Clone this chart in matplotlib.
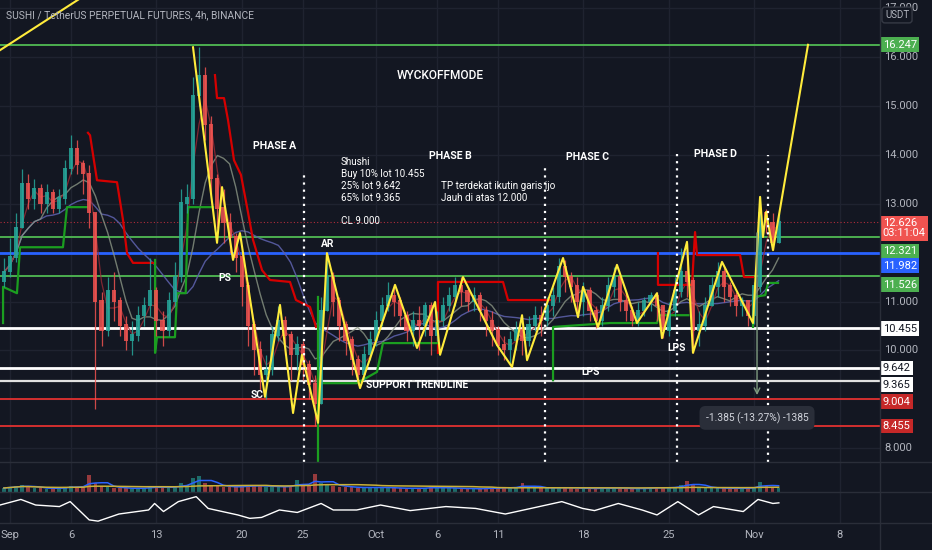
import numpy as np
import pandas as pd
import matplotlib
matplotlib.use("Agg")
import matplotlib.pyplot as plt
from matplotlib.lines import Line2D

plt.rcParams['font.family'] = ['Roboto', 'DejaVu Sans']

BG = '#131722'
GRID = '#1f2330'
TXT = '#b2b5be'
UP, DN = '#26a69a', '#ef5350'

# 12h candles, day offset from Sep 1 (t0 = -0.5, step 0.5)
closes = [11.6, 11.9, 12.5, 13.4, 13.1, 13.3, 13.0, 13.2, 12.9, 13.1, 13.7, 14.1, 13.8, 13.6, 12.8, 11.0,
          10.4, 11.2, 11.0, 10.5, 10.2, 10.3, 10.7, 10.9, 11.2, 10.6, 10.4, 11.0, 11.5, 13.0, 13.1, 15.2,
          15.6, 14.6, 13.5, 12.9, 12.6, 12.3, 11.9, 11.3, 10.5, 10.0, 9.5, 9.6, 10.3, 10.6, 10.3, 9.9,
          10.1, 9.7, 9.3, 8.9, 10.8, 11.5, 11.0, 10.5, 10.2, 9.8, 9.5, 9.9, 10.2, 10.6, 10.9, 11.1,
          11.0, 10.7, 10.4, 10.6, 10.5, 10.9, 10.3, 10.6, 10.9, 11.1, 11.3, 11.2, 11.0, 11.1, 10.8, 10.6,
          10.4, 10.1, 10.0, 10.2, 10.4, 10.2, 10.5, 10.7, 10.6, 10.9, 11.1, 11.7, 11.5, 11.3, 11.0, 11.2,
          10.8, 10.6, 10.9, 11.3, 11.5, 11.0, 10.8, 10.6, 10.8, 11.0, 11.1, 10.9, 10.4, 10.8, 11.2, 11.6,
          11.4, 10.4, 10.5, 10.9, 11.3, 11.6, 11.3, 11.1, 10.9, 11.0, 10.7, 11.3, 12.8, 12.6, 12.2, 12.626]
highs = [11.9, 12.3, 12.8, 13.7, 13.6, 13.5, 13.4, 13.4, 13.3, 13.3, 13.9, 14.4, 14.3, 13.9, 13.8, 12.8,
         11.2, 11.5, 11.6, 11.1, 10.7, 10.6, 10.9, 11.1, 11.9, 11.3, 10.8, 11.2, 11.8, 13.3, 13.4, 15.6,
         16.2, 15.8, 14.8, 13.6, 13.3, 12.8, 12.4, 12.0, 11.4, 10.6, 10.2, 9.9, 10.5, 10.9, 10.7, 10.4,
         10.3, 10.2, 9.8, 9.5, 11.1, 12.0, 11.6, 11.1, 10.6, 10.3, 9.9, 10.1, 10.4, 10.8, 11.1, 11.4,
         11.35, 11.1, 10.8, 10.8, 10.9, 11.0, 11.0, 10.8, 11.1, 11.3, 11.5, 11.5, 11.3, 11.3, 11.2, 10.9,
         10.8, 10.5, 10.3, 10.4, 10.6, 10.5, 10.7, 10.9, 10.9, 11.1, 11.3, 11.9, 11.85, 11.6, 11.5, 11.4,
         11.3, 10.9, 11.1, 11.5, 11.7, 11.5, 11.2, 10.9, 11.0, 11.1, 11.2, 11.2, 10.9, 11.0, 11.5, 12.1,
         12.2, 11.5, 10.8, 11.1, 11.5, 11.8, 11.7, 11.4, 11.2, 11.1, 11.0, 11.4, 13.15, 12.9, 12.8, 12.8]
lows = [11.3, 11.5, 11.8, 12.6, 12.9, 12.9, 12.8, 12.8, 12.8, 12.8, 13.0, 13.6, 13.6, 13.2, 12.5, 8.8,
        10.1, 10.3, 10.6, 10.3, 10.0, 9.9, 10.2, 10.5, 10.7, 10.3, 10.1, 10.3, 10.9, 11.4, 12.8, 13.0,
        15.0, 14.3, 13.2, 12.5, 12.2, 12.0, 11.6, 10.9, 10.1, 9.5, 9.2, 9.0, 9.5, 10.2, 9.9, 9.4,
        9.6, 9.4, 9.0, 8.455, 8.9, 10.8, 10.7, 10.2, 9.9, 9.5, 9.3, 9.4, 9.8, 10.1, 10.5, 10.8,
        10.7, 10.5, 10.2, 10.1, 10.0, 10.3, 9.9, 10.2, 10.5, 10.8, 10.9, 10.9, 10.8, 10.8, 10.6, 10.3,
        10.1, 9.9, 9.8, 9.75, 10.0, 9.9, 10.1, 10.4, 10.3, 10.5, 10.7, 11.0, 11.2, 11.0, 10.8, 10.7,
        10.6, 10.45, 10.5, 10.8, 11.1, 10.8, 10.6, 10.5, 10.5, 10.7, 10.8, 10.6, 10.25, 10.3, 10.7, 11.1,
        11.1, 9.95, 10.1, 10.4, 10.9, 11.1, 11.0, 10.9, 10.7, 10.7, 10.5, 10.55, 11.2, 12.4, 12.05, 12.2]
volumes = [4, 5, 6, 7, 5, 4, 4, 3, 4, 4, 5, 6, 5, 5, 17, 9,
           6, 5, 4, 4, 4, 3, 4, 4, 6, 5, 4, 4, 6, 9, 7, 14,
           16, 9, 7, 6, 5, 5, 5, 6, 7, 6, 6, 5, 6, 5, 5, 6,
           12, 7, 6, 18, 9, 8, 6, 5, 5, 5, 4, 4, 5, 5, 4, 4,
           4, 4, 3, 4, 4, 4, 5, 4, 4, 4, 4, 3, 3, 4, 3, 4,
           4, 4, 5, 4, 5, 9, 5, 4, 4, 4, 4, 5, 4, 4, 3, 4,
           4, 3, 4, 4, 4, 4, 3, 3, 4, 4, 4, 4, 5, 4, 5, 7,
           11, 7, 5, 4, 4, 4, 4, 3, 4, 4, 4, 5, 10, 6, 5, 4]

# oscillator (day offset, value 0-100)
osc_t = [-0.82, 0.89, 2.1, 4.05, 4.93, 6.49, 7.22, 8.93, 11.36, 11.85, 12.58, 13.8, 15.26, 16.24, 18.67,
         19.65, 20.62, 22.08, 23.55, 25.5, 26.5, 28.42, 30.37, 32.8, 35.73, 38.17, 40.6, 43.04, 45.23,
         46.94, 47.91, 49.86, 51.81, 53.03, 54.74, 56.44, 57.66, 60.1, 61.31, 62.53, 63.02]
osc_v = [58, 76, 58, 53, 69, 10, 6, 29, 42, 63, 37, 69, 85, 47, 26,
         15, 18, 42, 34, 63, 42, 42, 58, 40, 53, 47, 29, 50, 69,
         47, 40, 63, 42, 26, 69, 26, 53, 37, 76, 63, 65]

# zigzag swing points (day offset, price)
zig_t = [15.00, 16.97, 17.38, 18.28, 18.85, 20.90, 22.13, 23.20, 23.93, 25.25, 25.98, 28.69, 31.56, 33.36,
         34.84, 35.25, 37.13, 39.92, 41.15, 41.97, 42.38, 43.44, 45.33, 46.56, 46.97, 48.20, 49.75, 51.39,
         53.03, 53.44, 55.49, 55.98, 58.36, 60.90, 61.48, 61.72, 61.97, 62.54, 65.41]
zig_p = [16.20, 12.20, 13.34, 11.85, 12.40, 9.05, 10.93, 8.72, 9.91, 8.52, 11.99, 9.23, 11.34, 10.05,
         10.99, 9.91, 11.50, 10.11, 9.66, 10.72, 9.80, 10.56, 11.89, 10.68, 11.30, 10.48, 11.75, 10.56,
         11.17, 10.25, 12.22, 9.95, 11.81, 10.56, 13.14, 12.32, 12.83, 12.05, 16.25]
trend_t = [-0.82, 5.57]
trend_p = [16.14, 17.17]

# stepped stop lines (day offset, price)
red_lines = [
    ([6.39, 6.56, 7.13, 8.77, 9.26, 9.59, 10.08, 11.89],
     [14.45, 14.40, 13.48, 13.44, 12.67, 11.99, 11.79, 11.79]),
    ([16.80, 16.97, 17.54, 17.87, 18.36, 18.93, 19.43, 19.92, 20.66, 21.31, 22.95, 23.44, 24.59, 25.08],
     [15.63, 15.16, 15.16, 14.71, 13.89, 13.59, 12.93, 12.26, 11.64, 11.44, 11.40, 11.03, 10.89, 10.48]),
    ([35.08, 35.08, 40.41, 40.82, 44.26], [9.95, 11.40, 11.40, 11.03, 11.03]),
    ([53.11, 53.11, 54.67, 55.90, 56.15, 56.31, 59.84, 60.16, 60.90],
     [11.99, 11.34, 11.34, 11.34, 12.42, 11.95, 11.95, 11.50, 11.50]),
]
green_lines = [
    ([-0.57, -0.57, 0.57, 0.82, 4.34, 4.67, 6.31], [10.56, 11.30, 11.17, 12.11, 12.11, 12.93, 12.93]),
    ([11.89, 11.89, 12.05, 13.52, 13.69, 14.40, 14.59, 16.64], [11.85, 9.95, 10.27, 10.27, 11.17, 11.17, 12.93, 12.93]),
    ([25.25, 25.25], [7.60, 11.09]),
    ([25.66, 28.44, 30.08, 30.57, 35.0], [9.33, 9.33, 9.56, 10.15, 10.15]),
    ([44.51, 44.51, 49.18, 53.03, 53.2, 55.6], [9.39, 10.48, 10.56, 10.56, 10.72, 10.72]),
    ([60.9, 60.9, 61.9, 62.13, 62.95], [10.48, 11.09, 11.13, 11.38, 11.38]),
]

# horizontal levels: price, colour, width, label position, label bg, label fg
levels = [
    (16.247, '#4caf50', 1.4, 16.247, '#4caf50', 'white'),
    (12.321, '#4caf50', 1.4, 12.03, '#4caf50', 'white'),
    (11.982, '#2962ff', 2.0, 11.73, '#2962ff', 'white'),
    (11.526, '#4caf50', 1.4, 11.34, '#4caf50', 'white'),
    (10.455, '#ffffff', 2.0, 10.44, '#ffffff', '#131722'),
    (9.642, '#ffffff', 2.0, 9.64, '#ffffff', '#131722'),
    (9.365, '#e0e0e0', 1.6, 9.30, '#ffffff', '#131722'),
    (9.004, '#d32f2f', 1.4, 8.95, '#c62828', 'white'),
    (8.455, '#d32f2f', 1.4, 8.455, '#c62828', 'white'),
]
last_price = 12.626
price_ticks = [8, 10, 11, 13, 14, 15, 16, 17]
x_ticks = [0, 5, 12, 19, 24, 30, 35, 40, 47, 54, 61, 68]
x_labels = ['Sep', '6', '13', '20', '25', 'Oct', '6', '11', '18', '25', 'Nov', '8']
phase_x = [24.1, 43.85, 54.67, 62.13]
phase_top = [13.65, 13.79, 14.02, 14.0]

n = min(len(closes), len(highs), len(lows), len(volumes))
c = np.array(closes[:n])
o = np.concatenate([[11.4], c[:-1]])
h = np.maximum(np.array(highs[:n]), np.maximum(o, c))
l = np.minimum(np.array(lows[:n]), np.minimum(o, c))
v = np.array(volumes[:n], dtype=float)
t = -0.5 + 0.5 * np.arange(n)
up = c >= o
cols = np.where(up, UP, DN)

W, H = 932, 550
fig = plt.figure(figsize=(W / 100, H / 100), dpi=100, facecolor=BG)
pw = 880 / W
ax = fig.add_axes([0, 88 / H, pw, 462 / H], facecolor=BG)
axv = fig.add_axes([0, 58 / H, pw, 30 / H], facecolor=BG)
axo = fig.add_axes([0, 27 / H, pw, 31 / H], facecolor=BG)

XL = (-0.82, 71.31)
for a in (ax, axv, axo):
    a.set_xlim(*XL)
    for s in a.spines.values():
        s.set_visible(False)
    a.set_xticks(x_ticks)
    a.tick_params(length=0, labelbottom=False, labelleft=False)
    a.grid(axis='x', color=GRID, lw=1)
    a.set_yticks([])
    a.set_axisbelow(True)

ax.set_ylim(7.718, 17.166)
ax.set_yticks(price_ticks + [9, 12])
ax.grid(axis='y', color=GRID, lw=1)

# levels
for p, col, lw, *_ in levels:
    ax.axhline(p, color=col, lw=lw, zorder=2)
ax.axhline(last_price, color='#f23645', lw=0.8, ls=(0, (1, 2)), alpha=0.7, zorder=2)

# moving averages
cs = pd.Series(c)
ax.plot(t, cs.rolling(17, min_periods=1).mean(), color='#5b5fa8', lw=1, alpha=0.9, zorder=3)
ax.plot(t, cs.rolling(7, min_periods=1).mean(), color='#8a9584', lw=1, alpha=0.8, zorder=3)
ax.plot(t, cs.rolling(3, min_periods=1).mean(), color='#9c2b35', lw=0.9, alpha=0.8, zorder=3)

for xs, ys in red_lines:
    ax.plot(xs, ys, color='#d50000', lw=1.6, zorder=3)
for xs, ys in green_lines:
    ax.plot(xs, ys, color='#1b9e20', lw=1.6, zorder=3)

# candles
ax.vlines(t, l, h, colors=cols, lw=0.9, alpha=0.85, zorder=4)
ax.bar(t, np.abs(c - o) + 0.03, width=0.34, bottom=np.minimum(o, c), color=cols, alpha=0.85,
       linewidth=0, zorder=4)

# zigzag
ax.plot(zig_t, zig_p, color='#ffeb3b', lw=1.5, zorder=5)
ax.plot(trend_t, trend_p, color='#ffeb3b', lw=1.5, zorder=5)

# phase separators
for xp, top in zip(phase_x, phase_top):
    ax.vlines(xp, 7.718, top, colors='white', lw=1.6, ls=(0, (1, 2.2)), zorder=6)

W_T = dict(color='white', zorder=7)
ax.text(35.25, 15.63, 'WYCKOFFMODE', fontsize=8.6, fontweight='medium', ha='center', va='center', **W_T)
for lab, xx, yy in [('PHASE A', 21.7, 14.18), ('PHASE B', 36.07, 13.98),
                    ('PHASE C', 47.38, 13.96), ('PHASE D', 57.79, 14.02)]:
    ax.text(xx, yy, lab, fontsize=7.6, fontweight='bold', ha='center', va='center', **W_T)
for line, yy in [('Shushi', 13.85), ('Buy 10% lot 10.455', 13.61), ('25% lot 9.642', 13.36),
                 ('65% lot 9.365', 13.12), ('CL 9.000', 12.65)]:
    ax.text(27.13, yy, line, fontsize=7.1, ha='left', va='center', **W_T)
ax.text(35.33, 13.36, 'TP terdekat ikutin garis ijo', fontsize=7.1, ha='left', va='center', **W_T)
ax.text(35.33, 13.12, 'Jauh di atas 12.000', fontsize=7.1, ha='left', va='center', **W_T)
for lab, xx, yy, ha in [('AR', 26.07, 12.18, 'center'), ('PS', 17.62, 11.48, 'center'),
                        ('SC', 20.25, 9.09, 'center'), ('SUPPORT TRENDLINE', 29.18, 9.29, 'left'),
                        ('LPS', 47.62, 9.56, 'center'), ('LPS', 54.67, 10.05, 'center')]:
    ax.text(xx, yy, lab, fontsize=7.4, fontweight='bold', ha=ha, va='center', **W_T)

# measurement tool
ax.annotate('', xy=(61.23, 9.03), xytext=(61.23, 12.46),
            arrowprops=dict(arrowstyle='->', color='#7f9c80', lw=1.0), zorder=6)
ax.text(61.23, 8.62, '-1.385 (-13.27%) -1385', fontsize=7.4, color='#d1d4dc', ha='center', va='center',
        zorder=8, bbox=dict(boxstyle='round,pad=0.6', facecolor='#2a2e39', edgecolor='none'))

# right price scale
yt = ax.get_yaxis_transform()
for p in price_ticks:
    ax.text(1.005, p, f'{p:.3f}', transform=yt, fontsize=8, color=TXT, ha='left', va='center',
            clip_on=False)
for p, _, _, lp, bg, fg in levels:
    ax.text(1.003, lp, f'{p:.3f}', transform=yt, fontsize=8, color=fg, ha='left', va='center',
            clip_on=False, zorder=9,
            bbox=dict(boxstyle='square,pad=0.22', facecolor=bg, edgecolor='none'))
ax.text(1.003, 12.50, f'{last_price:.3f}\n03:11:04', transform=yt, fontsize=8,
        color='white', ha='left', va='center', clip_on=False, zorder=10, linespacing=1.05,
        bbox=dict(boxstyle='square,pad=0.22', facecolor='#f05350', edgecolor='none'))
fig.text(897 / W, 1 - 15 / H, 'USDT', fontsize=7, color=TXT, ha='center', va='center', zorder=20,
         bbox=dict(boxstyle='round,pad=0.3', facecolor=BG, edgecolor='#363a45'))

fig.text(6 / W, 1 - 15 / H, 'SUSHI / TetherUS PERPETUAL FUTURES, 4h, BINANCE', fontsize=7.4,
         color=TXT, ha='left', va='center')

# volume panel
axv.set_ylim(0, 30)
axv.bar(t, v, width=0.3, color=cols, alpha=0.6, linewidth=0)
vs = pd.Series(v)
axv.plot(t, vs.rolling(4, min_periods=1).mean(), color='#2962ff', lw=1.1)
axv.plot(t, vs.rolling(30, min_periods=1).mean(), color='#c9b037', lw=1.1)

# oscillator panel
axo.set_ylim(0, 100)
axo.plot(osc_t, osc_v, color='white', lw=1.0)
axo.tick_params(labelbottom=True, labelsize=8, labelcolor=TXT, pad=5)
axo.set_xticklabels(x_labels)

# panel separators
sep = '#2a2e39'
for yy in (462, 492, 523):
    fig.add_artist(Line2D([0, 1], [1 - yy / H] * 2, color=sep, lw=1))
fig.add_artist(Line2D([pw, pw], [0, 1], color=sep, lw=1))

fig.savefig('out.png', dpi=100, facecolor=BG)
